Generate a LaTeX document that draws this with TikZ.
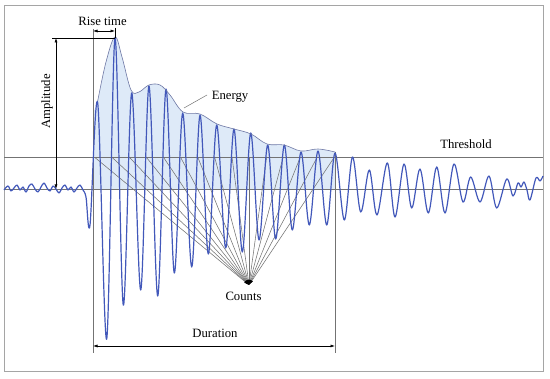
\documentclass[tikz,border=0pt]{standalone}
\usepackage{fontspec}
\setmainfont{Liberation Serif}
\usetikzlibrary{arrows.meta}
\definecolor{wave}{RGB}{66,88,186}
\definecolor{envfill}{RGB}{222,234,248}
\definecolor{envline}{RGB}{110,120,165}
\definecolor{guide}{RGB}{115,115,115}
\definecolor{framec}{RGB}{165,165,165}
\begin{document}
\begin{tikzpicture}[x=1pt,y=-1pt,
  guideline/.style={draw=guide,line width=0.7pt},
  dimarrow/.style={draw=black,line width=0.6pt,{Latex[length=4.5pt,width=3pt]}-{Latex[length=4.5pt,width=3pt]}},
  countline/.style={draw=guide,line width=0.55pt,-{Latex[length=5pt,width=2.5pt,color=black]}},
  lbl/.style={font=\fontsize{12.7}{15}\selectfont,inner sep=0pt,anchor=base}]
\useasboundingbox (0,0) rectangle (550,379);
\draw[framec,line width=1pt] (4,6) rectangle (543,372);
% energy shading
\fill[envfill] (93,189) -- (93,112) -- plot[smooth,tension=0.6] coordinates {(93,112) (97.7,101) (106,62) (115,37) (122,57) (131,90) (139,92) (149,85) (160,85) (170,95) (183,112) (200,114) (217,124) (234,129) (251,134) (267,144) (284,145) (301,151) (318,149) (335,152)} -- (335,189) -- cycle;
% threshold and baseline
\coordinate (thL) at (4,157); \coordinate (thR) at (543,157);
\coordinate (blL) at (4,189); \coordinate (blR) at (543,189);
\draw[guideline] (thL) -- (thR);
\draw[guideline] (blL) -- (blR);
% start / end lines
\coordinate (sTop) at (93,29); \coordinate (sBot) at (93,353);
\coordinate (eTop) at (335,152); \coordinate (eBot) at (335,353);
\draw[guideline] (sTop) -- (sBot);
\draw[guideline] (eTop) -- (eBot);
% counts
\coordinate (ctip) at (249,285);
\foreach \x [count=\i] in {94.3,111.7,129.2,146.1,163.3,180.4,197.7,214.6,232.0,249.0,266.6,283.2,300.4,317.3,334.5}{
  \coordinate (c\i) at (\x,157);
  \draw[countline] (c\i) -- (ctip);
}
% waveform
\draw[wave,line width=1.2pt,line join=round] plot[smooth,tension=0.55] coordinates {
(4,190) (8,186) (11,191) (14,188) (17,185) (20,190) (23,187) (26,192) (29,186) (32,184) (35,189) (38,192) (41,187) (44,183) (47,188) (50,191) (53,186) (56,189) (59,193) (62,188) (65,185) (68,190) (71,187) (74,192) (77,188) (80,185) (83,190) (86,197) (90,225)
(97.7,103) (106.7,339) (115,38) (123.3,305) (131.7,93) (140.7,290) (149,86) (157.7,296) (166,89) (174.3,273) (182.7,113) (191.7,267) (200,115) (208.3,254) (216.7,125) (225.7,248) (234,129) (242.3,252) (250.7,133) (259,240) (267.7,145) (275.7,239) (284.3,145) (292.3,230) (301,152) (309.3,225) (318,151) (326.7,225) (335,153) (344.3,220) (352.5,157) (360.7,212) (369.3,170) (377,215) (387.3,163) (395,217) (404,164) (411.7,208) (420,169) (428.3,213) (436.7,167) (445,213) (454,164) (463,202) (470.7,177) (480,202) (489,176) (496.7,208) (506.7,179) (513,196) (518,183) (521,187) (524,182) (527,190) (530,200) (536,178) (540,181) (543,176)};
% energy envelope line
\draw[envline,line width=0.6pt] plot[smooth,tension=0.6] coordinates {(97.7,101) (106,62) (115,37) (122,57) (131,90) (139,92) (149,85) (160,85) (170,95) (183,112) (200,114) (217,124) (234,129) (251,134) (267,144) (284,145) (301,151) (318,149) (335,152)};
% amplitude
\coordinate (ampL) at (52,38); \coordinate (peak) at (115,38);
\draw[black,line width=0.6pt] (ampL) -- (peak);
\coordinate (aTop) at (56,38); \coordinate (aBot) at (56,189);
\draw[dimarrow] (aTop) -- (aBot);
\node[lbl,rotate=90] (amp) at (50,101.5) {Amplitude};
% rise time
\coordinate (rA) at (93,31); \coordinate (rB) at (115,31);
\coordinate (rT1) at (115,28); \coordinate (rT2) at (115,38);
\draw[black,line width=0.6pt] (rT1) -- (rT2);
\draw[dimarrow] (rA) -- (rB);
\node[lbl] (rise) at (102.5,25.5) {Rise time};
% energy label
\node[lbl] (energy) at (230,100) {Energy};
\coordinate (eL1) at (184,108); \coordinate (eL2) at (207,95);
\draw[guideline,line width=0.5pt] (eL1) -- (eL2);
% threshold label
\node[lbl] (thr) at (466,148.5) {Threshold};
% counts label
\node[lbl] (counts) at (243.5,300.5) {Counts};
% duration
\coordinate (dA) at (93,346); \coordinate (dB) at (335,346);
\draw[dimarrow] (dA) -- (dB);
\node[lbl] (dur) at (215,337.5) {Duration};
\end{tikzpicture}
\end{document}
